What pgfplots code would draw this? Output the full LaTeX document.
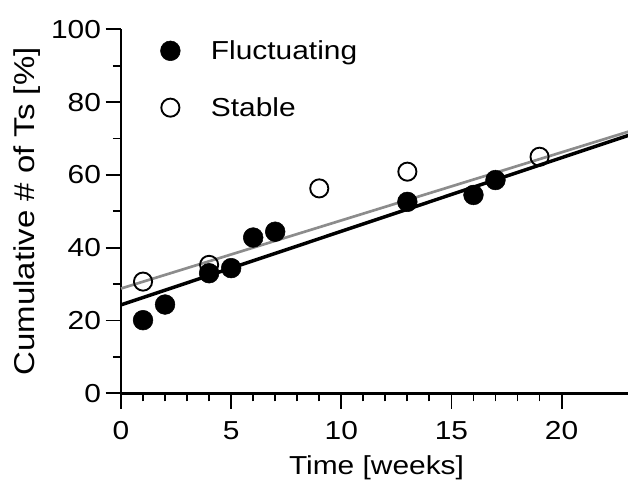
\documentclass[border=0pt]{standalone}
\usepackage{fontspec}
\setmainfont[FakeStretch=1.15]{Liberation Sans}
\usepackage{pgfplots}
\pgfplotsset{compat=1.18}

\begin{document}
\begin{tikzpicture}
\begin{axis}[
  at={(0,0)}, anchor=south west,
  scale only axis,
  width=383.3pt, height=273pt,
  xmin=0, xmax=23.2,
  ymin=0, ymax=100,
  axis x line=bottom, axis y line=left,
  axis line style={-, line width=2.2pt},
  xtick={0,5,10,15,20}, ytick={0,20,40,60,80,100},
  minor x tick num=4, minor y tick num=1,
  tick align=outside,
  major tick length=11.5pt, minor tick length=6pt,
  tick style={line width=1.4pt, black},
  font=\fontsize{19.5}{23}\selectfont,
  tick label style={font=\fontsize{19.5}{23}\selectfont},
  xticklabel style={yshift=-6pt},
  /pgf/number format/assume math mode=true,
  xlabel={Time [weeks]},
  ylabel={Cumulative \# of Ts [\%]},
  xlabel style={yshift=-5pt},
  ylabel style={at={(rel axis cs:0,0.5)}, anchor=center, yshift=70.5pt,
    font=\fontsize{21.5}{25}\selectfont},
  clip=false,
  legend style={at={(axis cs:1.6,98.5)}, anchor=north west, draw=none, fill=none,
    font=\fontsize{19.5}{23}\selectfont, row sep=23pt,
    /tikz/every odd column/.append style={column sep=21pt}},
  legend cell align=left,
]
\addplot[only marks, mark=*, mark size=7.4pt, black] coordinates {
  (1,20.1) (2,24.4) (4,33.0) (5,34.4) (6,42.8) (7,44.4)
  (13,52.6) (16,54.5) (17,58.6)};
\addlegendentry{Fluctuating}
\addplot[only marks, mark=o, mark size=6.8pt, black,
  mark options={line width=1.4pt, fill=white}] coordinates {
  (1,30.7) (4,35.3) (9,56.3) (13,60.9) (19,65.0)};
\addlegendentry{Stable}
% regression lines
\addplot[forget plot, black, line width=2.6pt] coordinates {(0,24.3) (23.2,71.2)};
\addplot[forget plot, black!45, line width=2.0pt] coordinates {(0,28.8) (23.2,72.2)};
\end{axis}
\pgfresetboundingbox
\useasboundingbox (-90.75pt,-65pt) rectangle (380.25pt,295pt);
\end{tikzpicture}
\end{document}
